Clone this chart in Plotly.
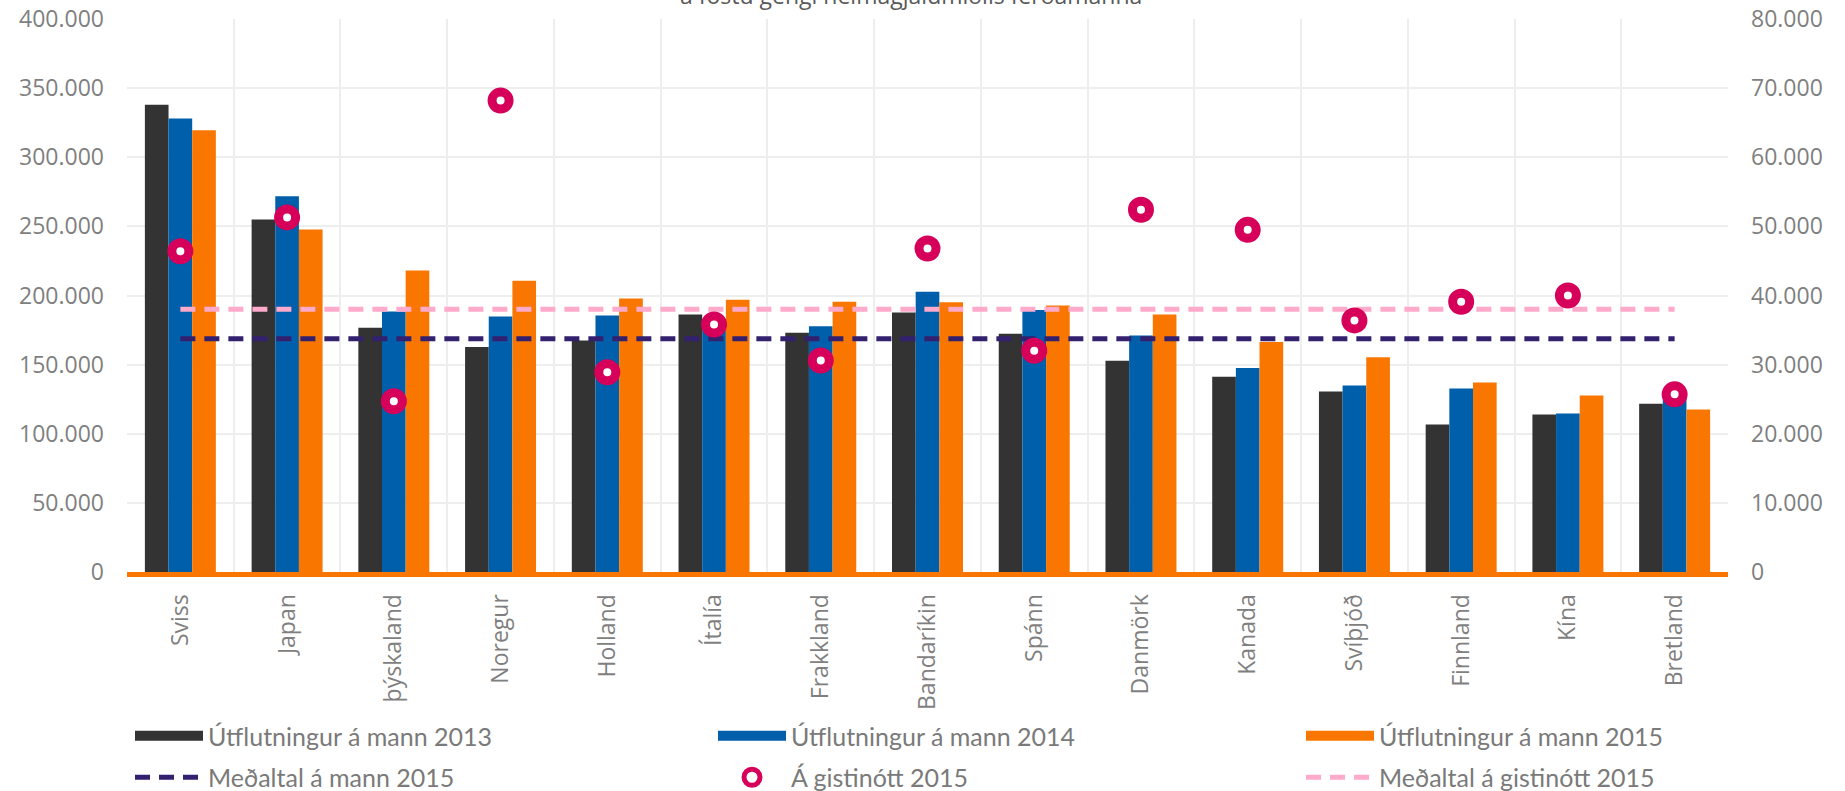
import plotly.graph_objects as go

categories = ["Sviss", "Japan", "þýskaland", "Noregur", "Holland", "Ítalía", "Frakkland",
              "Bandaríkin", "Spánn", "Danmörk", "Kanada", "Svíþjóð", "Finnland", "Kína", "Bretland"]

utfl_2013 = [338000, 255000, 176600, 162700, 167500, 186300, 173000, 187700, 172300,
             152800, 141200, 130600, 106700, 114000, 121700]
utfl_2014 = [328000, 271800, 188400, 184800, 185500, 183000, 177800, 202700, 189600,
             171100, 147500, 134900, 132800, 114700, 126000]
utfl_2015 = [319500, 247700, 218100, 210600, 197800, 196900, 195400, 195200, 192800,
             186300, 166300, 155400, 137100, 127700, 117600]
gistinott_2015 = [46400, 51300, 24700, 68200, 28900, 35800, 30600, 46800, 32000,
                  52400, 49500, 36400, 39100, 40000, 25700]
medaltal_mann_2015 = 168700
medaltal_gistinott_2015 = 38000

left_ticks = [0, 50000, 100000, 150000, 200000, 250000, 300000, 350000, 400000]
right_ticks = [0, 10000, 20000, 30000, 40000, 50000, 60000, 70000, 80000]

C_BLACK = "#333333"
C_BLUE = "#005fab"
C_ORANGE = "#f97700"
C_MARK = "#d6005b"
C_DARK = "#33206f"
C_PINK = "#ffa9cb"
GRAY = "#7f7f7f"

W, H = 1845, 791
PL, PR, PT, PB = 127, 1728, 19, 572

fig = go.Figure()

for name, vals, col in [("Útflutningur á mann 2013", utfl_2013, C_BLACK),
                        ("Útflutningur á mann 2014", utfl_2014, C_BLUE),
                        ("Útflutningur á mann 2015", utfl_2015, C_ORANGE)]:
    fig.add_trace(go.Bar(x=categories, y=vals, name=name, marker=dict(color=col, line=dict(width=0)),
                         showlegend=False, yaxis="y"))

fig.add_trace(go.Scatter(x=categories, y=[medaltal_mann_2015] * len(categories), mode="lines",
                         line=dict(color=C_DARK, width=5, dash="15px,9px"),
                         showlegend=False, yaxis="y"))
fig.add_trace(go.Scatter(x=categories, y=[medaltal_gistinott_2015] * len(categories), mode="lines",
                         line=dict(color=C_PINK, width=5, dash="15px,9px"),
                         showlegend=False, yaxis="y2"))
fig.add_trace(go.Scatter(x=categories, y=gistinott_2015, mode="markers",
                         marker=dict(symbol="circle", size=17, color="white",
                                     line=dict(color=C_MARK, width=9)),
                         showlegend=False, yaxis="y2"))

# legend entries (three columns, two rows)
legend_items = [
    ("legend", "Útflutningur á mann 2013", dict(mode="lines", line=dict(color=C_BLACK, width=14))),
    ("legend", "Meðaltal á mann 2015", dict(mode="lines", line=dict(color=C_DARK, width=5, dash="15px,9px"))),
    ("legend2", "Útflutningur á mann 2014", dict(mode="lines", line=dict(color=C_BLUE, width=14))),
    ("legend2", "Á gistinótt 2015", dict(mode="markers", marker=dict(symbol="circle", size=17, color="white",
                                                                    line=dict(color=C_MARK, width=9)))),
    ("legend3", "Útflutningur á mann 2015", dict(mode="lines", line=dict(color=C_ORANGE, width=14))),
    ("legend3", "Meðaltal á gistinótt 2015", dict(mode="lines", line=dict(color=C_PINK, width=5, dash="15px,9px"))),
]
for i, (lg, name, kw) in enumerate(legend_items):
    fig.add_trace(go.Scatter(x=[None], y=[None], name=name, legend=lg, legendgroup=f"g{i}",
                             showlegend=True, yaxis="y", **kw))


def px_x(px):
    return (px - PL) / (PR - PL)


leg_common = dict(orientation="v", yanchor="top", xanchor="left", traceorder="grouped",
                  xref="container", yref="container",
                  tracegroupgap=6, itemwidth=68, bgcolor="rgba(0,0,0,0)",
                  font=dict(family="Lato", size=25, color="#7a7a7a"), itemclick=False)
LEG_TOP = 713

fig.update_layout(
    width=W, height=H,
    margin=dict(l=PL, r=W - PR, t=PT, b=H - PB, autoexpand=False),
    paper_bgcolor="white", plot_bgcolor="white",
    separators=",.",
    barmode="group", bargap=0.335, bargroupgap=0,
    font=dict(family="Open Sans", color=GRAY),
    xaxis=dict(type="category", tickangle=-90, tickson="boundaries", showgrid=True,
               gridcolor="#eeeeee", gridwidth=2, showline=True, linecolor=C_ORANGE, linewidth=5,
               ticks="", tickfont=dict(family="Open Sans", size=23, color=GRAY),
               ticklabelstandoff=8, range=[-0.5, len(categories) - 0.5], automargin=False),
    yaxis=dict(range=[0, 400000], tickvals=left_ticks, tickformat=",d", showgrid=True,
               gridcolor="#eeeeee", gridwidth=2, zeroline=False, ticks="", automargin=False,
               tickfont=dict(family="Open Sans", size=23, color=GRAY), ticklabelstandoff=22),
    yaxis2=dict(range=[0, 80000], tickvals=right_ticks, tickformat=",d", overlaying="y", side="right",
                showgrid=False, zeroline=False, ticks="", automargin=False,
                tickfont=dict(family="Open Sans", size=23, color=GRAY), ticklabelstandoff=22),
    legend=dict(x=130 / W, y=1 - LEG_TOP / H, **leg_common),
    legend2=dict(x=713 / W, y=1 - LEG_TOP / H, **leg_common),
    legend3=dict(x=1301 / W, y=1 - LEG_TOP / H, **leg_common),
    annotations=[dict(text="á föstu gengi heimagjaldmiðils ferðamanna", xref="paper", yref="paper",
                      x=px_x(911), y=1, xanchor="center", yanchor="bottom", yshift=6, showarrow=False,
                      font=dict(family="Open Sans", size=23, color="#595959"))],
)

fig.write_html("out.html", config={"displayModeBar": False},
               post_script="document.body.style.margin='0';")
